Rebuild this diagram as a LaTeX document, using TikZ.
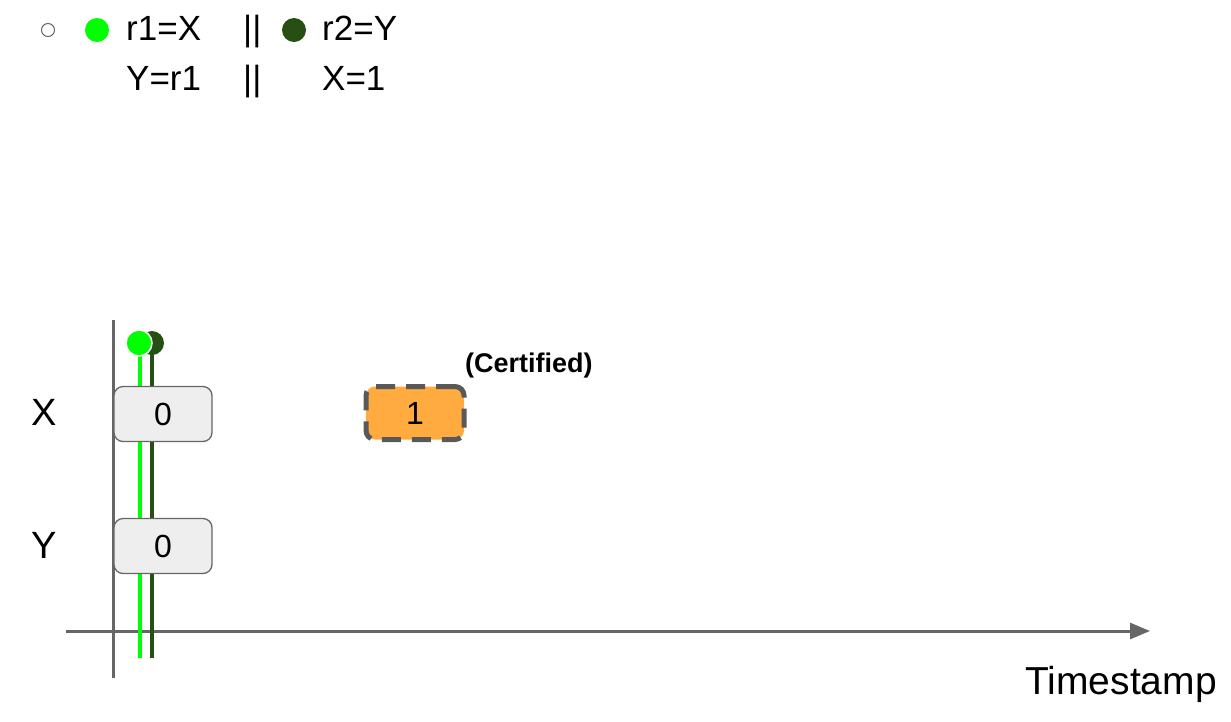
\documentclass[tikz,border=0pt]{standalone}
\usepackage{fontspec}
\setmainfont{Liberation Sans}
\usetikzlibrary{arrows.meta,positioning}
\definecolor{Lime}{HTML}{00FF00}
\definecolor{Forest}{HTML}{274E13}
\definecolor{AxisGray}{HTML}{666666}
\definecolor{CellFill}{HTML}{EEEEEE}
\definecolor{Amber}{HTML}{FFAB40}
\definecolor{DashGray}{HTML}{595959}
\tikzset{
  code/.style={inner sep=0pt, anchor=base west, font=\fontsize{35}{42}\selectfont},
  varlabel/.style={inner sep=0pt, font=\fontsize{38}{46}\selectfont},
  cell/.style={
    rounded corners=9pt, draw=AxisGray, line width=1.3pt, fill=CellFill,
    minimum width=98pt, minimum height=55pt, inner sep=0pt,
    font=\fontsize{32}{38}\selectfont
  },
  newcell/.style={
    cell, draw=DashGray, line width=5pt, dash pattern=on 19pt off 11pt,
    fill=Amber, minimum width=98pt, minimum height=53pt
  },
  dot/.style={circle, inner sep=0pt, minimum size=24pt},
  thread/.style={line width=4pt},
  axisline/.style={draw=AxisGray, line width=3pt}
}
\begin{document}
\begin{tikzpicture}[x=1pt,y=-1pt]
  \useasboundingbox (0,0) rectangle (1231,721);
  % program
  \node[circle, draw=AxisGray, line width=1pt, minimum size=13pt, inner sep=0pt] (idle) at (48,30) {};
  \node[dot, fill=Lime] (t1) at (97,30) {};
  \node[code] (p1a) at (126,40) {r1=X};
  \node[code] (p1b) at (126,90) {Y=r1};
  \node[code] (sepa) at (243,40) {||};
  \node[code] (sepb) at (243,90) {||};
  \node[dot, fill=Forest] (t2) at (294,30) {};
  \node[code] (p2a) at (322,40) {r2=Y};
  \node[code] (p2b) at (322,90) {X=1};
  % axes
  \coordinate (ytop) at (113,320);
  \coordinate (ybot) at (113,678);
  \coordinate (xleft) at (66,631);
  \coordinate (xright) at (1150,631);
  \draw[axisline] (ytop) -- (ybot);
  \draw[axisline, -{Triangle[length=20pt,width=16pt]}] (xleft) -- (xright);
  \node[inner sep=0pt, anchor=base east, font=\fontsize{39}{46}\selectfont] (ts) at (1217,694) {Timestamp};
  \node[varlabel] (vx) at (44,412) {X};
  \node[varlabel] (vy) at (44,545) {Y};
  % threads
  \coordinate (g1) at (140,343);
  \coordinate (g2) at (140,658);
  \coordinate (d1) at (152,343);
  \coordinate (d2) at (152,658);
  \draw[thread, Forest] (d1) -- (d2);
  \draw[thread, Lime] (g1) -- (g2);
  % memory
  \node[cell] (x0) at (163,414) {0};
  \node[cell] (y0) at (163,546) {0};
  \node[newcell] (x1) at (415,413) {1};
  \node[inner sep=0pt, anchor=base west, font=\bfseries\fontsize{27}{32}\selectfont] (cert) at (465,372) {(Certified)};
  % thread heads
  \node[dot, fill=Forest] (h2) at (d1) {};
  \node[dot, fill=Lime, draw=white, line width=1.5pt, minimum size=26pt] (h1) at (139,343) {};
\end{tikzpicture}
\end{document}
